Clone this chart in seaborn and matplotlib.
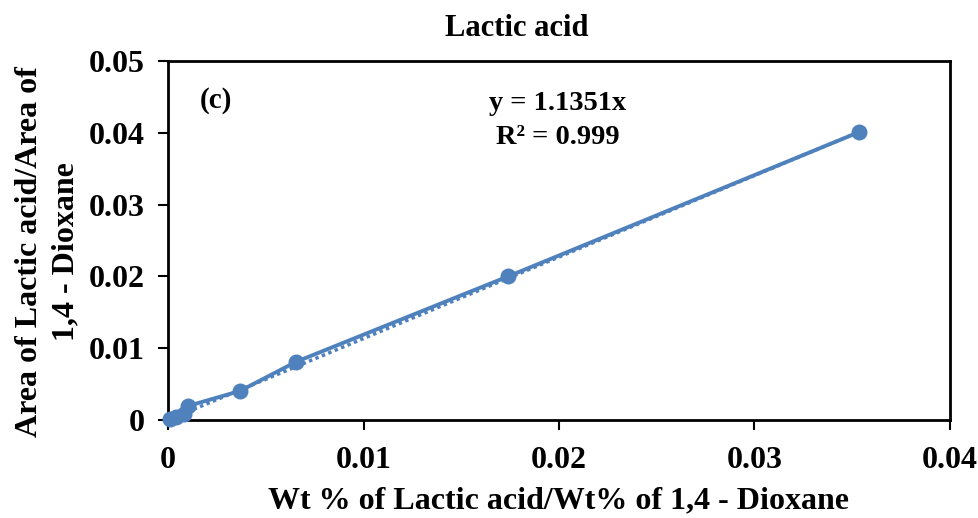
import matplotlib
matplotlib.use("Agg")
import matplotlib.pyplot as plt
import seaborn as sns
import numpy as np
import pandas as pd

x_vals = [0.0001, 0.0004, 0.0008, 0.00102, 0.00368, 0.00655, 0.0174, 0.03535]
y_vals = [0.0001, 0.0004, 0.0008, 0.00195, 0.00404, 0.0081, 0.0200, 0.0401]
slope = 1.1351
x_ticks = [0, 0.01, 0.02, 0.03, 0.04]
y_ticks = [0, 0.01, 0.02, 0.03, 0.04, 0.05]
x_tick_labels = ["0", "0.01", "0.02", "0.03", "0.04"]
y_tick_labels = ["0", "0.01", "0.02", "0.03", "0.04", "0.05"]

sns.set_theme(style="white")
plt.rcParams['font.family'] = ['Liberation Serif', 'DejaVu Serif']
plt.rcParams['text.color'] = 'black'
plt.rcParams['axes.labelcolor'] = 'black'

color = "#4F81BD"
df = pd.DataFrame({"x": x_vals, "y": y_vals})

fig = plt.figure(figsize=(9.79, 5.18), dpi=100)
ax = fig.add_axes([168/979, 1 - 420/518, (950-168)/979, (420-61)/518])

# trendline (dotted)
xt = np.array([0, max(x_vals)])
ax.plot(xt, slope * xt, linestyle=(0, (1, 1)), color=color, linewidth=2.5, zorder=2)

sns.lineplot(data=df, x="x", y="y", ax=ax, sort=False, color=color,
             linewidth=2.8, marker="o", markersize=11.5, markeredgewidth=0, zorder=3,
             clip_on=False)

ax.set_xlim(0, 0.04)
ax.set_ylim(0, 0.05)
ax.set_xticks(x_ticks)
ax.set_xticklabels(x_tick_labels)
ax.set_yticks(y_ticks)
ax.set_yticklabels(y_tick_labels)
ax.tick_params(axis="both", which="both", direction="out", length=7, width=1.5,
               labelsize=23, colors="black", bottom=True, left=True)
ax.tick_params(axis="x", pad=12)
ax.tick_params(axis="y", pad=10)
for lab in ax.get_xticklabels() + ax.get_yticklabels():
    lab.set_fontweight("bold")
for sp in ax.spines.values():
    sp.set_color("black")
    sp.set_linewidth(2)

ax.set_xlabel("Wt % of Lactic acid/Wt% of 1,4 - Dioxane", fontsize=23,
              fontweight="bold", labelpad=8)
ax.set_ylabel("Area of Lactic acid/Area of\n1,4 - Dioxane", fontsize=23,
              fontweight="bold", linespacing=1.3)
ax.yaxis.set_label_coords((80 - 168) / 782, (420 - 252) / 359)
fig.text(517/979, 1 - 28/518, "Lactic acid", ha="center", va="center",
         fontsize=22, fontweight="bold")
ax.text(0.00245, 0.0445, "(c)", fontsize=21, fontweight="bold", ha="center", va="center")
ax.text(0.01995, 0.0417, "y = 1.1351x\nR² = 0.999", fontsize=20.5, fontweight="bold",
        ha="center", va="center", linespacing=1.45)

fig.savefig("out.png", dpi=100)
